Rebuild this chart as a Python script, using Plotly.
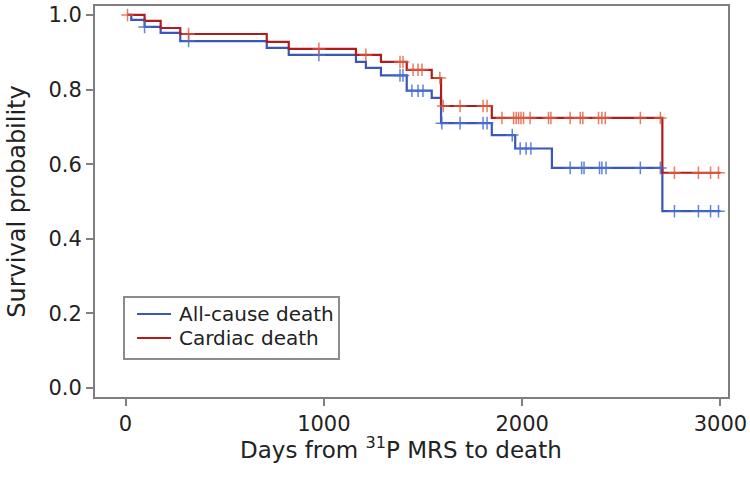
import numpy as np
import plotly.graph_objects as go

# ---- data ----
all_times = [10, 29, 96, 177, 276, 712, 823, 1162, 1212, 1288, 1418, 1544, 1591, 1847, 1965, 2150, 2707, 3000]
all_surv = [1.0, 0.987, 0.968, 0.952, 0.930, 0.912, 0.893, 0.874, 0.858, 0.838, 0.797, 0.778, 0.710, 0.678, 0.642, 0.590, 0.474, 0.474]
all_censor = [96, 318, 975, 1384, 1399, 1444, 1475, 1500, 1595, 1687, 1803, 1823, 1950,
              1990, 2020, 2044, 2242, 2300, 2312, 2390, 2402, 2423, 2596, 2697,
              2768, 2889, 2950, 2990]

card_times = [10, 96, 177, 276, 712, 823, 1162, 1288, 1418, 1544, 1591, 1847, 2707, 3000]
card_surv = [1.0, 0.984, 0.965, 0.949, 0.928, 0.909, 0.893, 0.874, 0.853, 0.831, 0.756, 0.724, 0.577, 0.577]
card_censor = [10, 318, 975, 1212, 1384, 1399, 1450, 1475, 1495, 1585, 1602, 1687, 1803, 1823,
               1898, 1957, 1970, 1982, 1994, 2007, 2040, 2133, 2145, 2242, 2293, 2306,
               2385, 2402, 2419, 2596, 2697, 2768, 2889, 2950, 2990]

series_names = ["All-cause death", "Cardiac death"]
x_ticks = [0, 1000, 2000, 3000]
y_ticks = [0.0, 0.2, 0.4, 0.6, 0.8, 1.0]
y_tick_labels = ["0.0", "0.2", "0.4", "0.6", "0.8", "1.0"]
x_title = "Days from <sup>31</sup>P MRS to death"
y_title = "Survival probability"

BLUE = "#3a56b8"
RED = "#b01c1c"
BLUE_M = "rgba(70,110,210,0.85)"
RED_M = "rgba(228,90,60,0.8)"
FONT = "DejaVu Sans, Verdana, sans-serif"
AX = "#7f7f7f"
TXT = "#222222"


def surv_at(times, surv, t):
    idx = np.searchsorted(np.array(times), t, side="right") - 1
    idx = max(idx, 0)
    return surv[idx]


fig = go.Figure()

fig.add_trace(go.Scatter(x=all_times, y=all_surv, mode="lines", line_shape="hv",
                         line=dict(color=BLUE, width=2.2), name=series_names[0], showlegend=False))
fig.add_trace(go.Scatter(x=card_times, y=card_surv, mode="lines", line_shape="hv",
                         line=dict(color=RED, width=2.2), name=series_names[1], showlegend=False))

fig.add_trace(go.Scatter(x=all_censor, y=[surv_at(all_times, all_surv, t) for t in all_censor],
                         mode="markers", showlegend=False, hoverinfo="skip",
                         marker=dict(symbol="cross-thin", size=9, line=dict(color=BLUE_M, width=1.5))))
fig.add_trace(go.Scatter(x=card_censor, y=[surv_at(card_times, card_surv, t) for t in card_censor],
                         mode="markers", showlegend=False, hoverinfo="skip",
                         marker=dict(symbol="cross-thin", size=9, line=dict(color=RED_M, width=1.5))))

# ---- legend box (drawn in paper coordinates) ----
leg_x0, leg_x1, leg_y0, leg_y1 = 0.0458, 0.3855, 0.0972, 0.2558
row_y = [0.2123, 0.1509]
shapes = [dict(type="rect", xref="paper", yref="paper", x0=leg_x0, x1=leg_x1, y0=leg_y0, y1=leg_y1,
               line=dict(color="#8c8c8c", width=2), fillcolor="white", layer="above")]
annotations = []
for name, col, yy in zip(series_names, [BLUE, RED], row_y):
    shapes.append(dict(type="line", xref="paper", yref="paper", x0=0.0664, x1=0.1201, y0=yy, y1=yy,
                       line=dict(color=col, width=2.2), layer="above"))
    annotations.append(dict(xref="paper", yref="paper", x=0.1295, y=yy, text=name, showarrow=False,
                            xanchor="left", yanchor="middle", font=dict(size=20, color=TXT, family=FONT)))

# x-axis title (slightly left of centre, as in the reference)
annotations.append(dict(xref="paper", yref="paper", x=0.483, y=-0.087, text=x_title, showarrow=False,
                        xanchor="center", yanchor="top", font=dict(size=23, color=TXT, family=FONT)))

fig.update_layout(
    width=750, height=478,
    margin=dict(l=95, r=22, t=6, b=81, autoexpand=False),
    paper_bgcolor="white", plot_bgcolor="white",
    font=dict(family=FONT, color=TXT, size=21),
    showlegend=False,
    shapes=shapes, annotations=annotations,
    xaxis=dict(range=[-154, 3038], tickvals=x_ticks, showgrid=False, zeroline=False, automargin=False,
               showline=True, linecolor=AX, linewidth=2, mirror=True,
               ticks="outside", ticklen=7, tickcolor=AX, tickwidth=1.5,
               tickfont=dict(size=21, color=TXT)),
    yaxis=dict(range=[-0.024, 1.024], tickvals=y_ticks, ticktext=y_tick_labels,
               showgrid=False, zeroline=False, automargin=False,
               showline=True, linecolor=AX, linewidth=2, mirror=True,
               ticks="outside", ticklen=7, tickcolor=AX, tickwidth=1.5,
               tickfont=dict(size=21, color=TXT),
               title=dict(text=y_title, font=dict(size=24), standoff=16)),
)

fig.write_html("out.html", config={"displayModeBar": False},
               post_script="document.body.style.margin='0';document.body.style.padding='0';")
